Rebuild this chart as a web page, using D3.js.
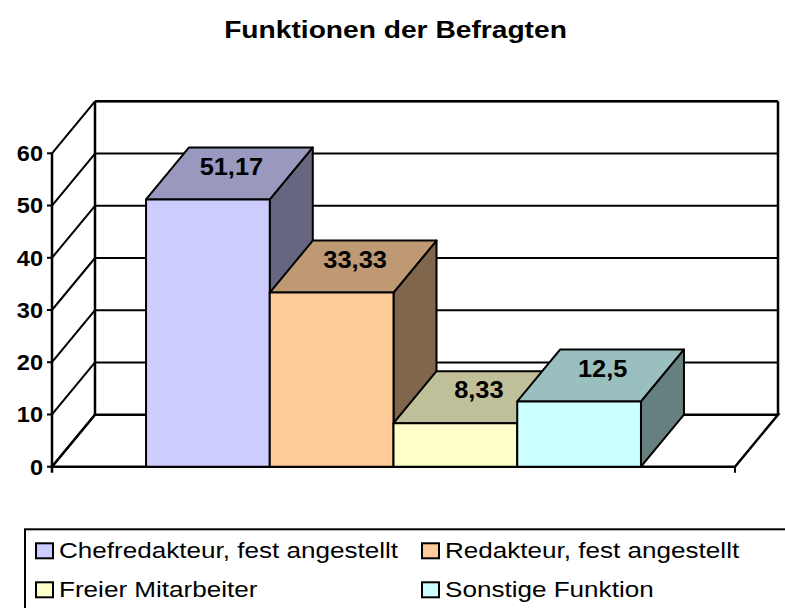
<!DOCTYPE html>
<html>
<head>
<meta charset="utf-8">
<script src="https://cdn.jsdelivr.net/npm/d3@7"></script>
<style>
  body { margin: 0; background: #fff; }
  text { font-family: "Liberation Sans", Arial, sans-serif; fill: #000; }
</style>
</head>
<body>
<div id="chart"></div>
<script>
// data
var categories = ["Chefredakteur, fest angestellt", "Redakteur, fest angestellt", "Freier Mitarbeiter", "Sonstige Funktion"];
var values = [51.17, 33.33, 8.33, 12.5];
var colors = ["#CCCCFF", "#FFCC99", "#FFFFCC", "#CCFFFF"];
var yTicks = [0, 10, 20, 30, 40, 50, 60];

var W = 785, H = 608;
var x0 = 52, x1 = 735, yBase = 466.7, yTop = 153.3;
var depth = {x: 43, y: -52};

var svg = d3.select("#chart").append("svg")
    .attr("width", W)
    .attr("height", H);

// scales
var y = d3.scaleLinear().domain([0, 60]).range([yBase, yTop]);
var x = d3.scaleBand().domain(categories).range([x0, x1]).paddingInner(0).paddingOuter(0.76);

// helper for horizontally stretched text (the original glyphs are wider)
function stretchText(g, tx, ty, str, size, sx, anchor, bold) {
    g.append("g")
        .attr("transform", "translate(" + tx + "," + ty + ") scale(" + sx + ",1)")
        .append("text")
        .attr("text-anchor", anchor)
        .style("font-size", size + "px")
        .style("font-weight", bold ? "bold" : "normal")
        .text(str);
}

// title
stretchText(svg, 395.5, 38.3, "Funktionen der Befragten", 24.5, 1.15, "middle", true);

// walls and grid
var grid = svg.append("g").attr("stroke", "#000").attr("fill", "none");

yTicks.forEach(function(t) {
    // back wall lines
    if (t > 0) {
        grid.append("line")
            .attr("x1", x0 + depth.x).attr("x2", x1 + depth.x)
            .attr("y1", y(t) + depth.y).attr("y2", y(t) + depth.y)
            .attr("stroke-width", 2);
    }
    // side wall diagonals
    grid.append("line")
        .attr("x1", x0).attr("y1", y(t))
        .attr("x2", x0 + depth.x).attr("y2", y(t) + depth.y)
        .attr("stroke-width", 2);
    // tick marks
    grid.append("line")
        .attr("x1", x0 - 5).attr("x2", x0)
        .attr("y1", y(t)).attr("y2", y(t))
        .attr("stroke-width", 2);
});

// back wall frame
grid.append("line")
    .attr("x1", x0 + depth.x).attr("x2", x0 + depth.x)
    .attr("y1", y(0) + depth.y).attr("y2", y(60) + depth.y)
    .attr("stroke-width", 2.5);
grid.append("line")
    .attr("x1", x1 + depth.x).attr("x2", x1 + depth.x)
    .attr("y1", y(0) + depth.y).attr("y2", y(60) + depth.y)
    .attr("stroke-width", 2.5);
grid.append("line")
    .attr("x1", x0 + depth.x).attr("x2", x1 + depth.x)
    .attr("y1", y(60) + depth.y).attr("y2", y(60) + depth.y)
    .attr("stroke-width", 2.5);

// floor
grid.append("path")
    .attr("d", "M" + x0 + "," + y(0) +
        "L" + x1 + "," + y(0) +
        "L" + (x1 + depth.x) + "," + (y(0) + depth.y) +
        "L" + (x0 + depth.x) + "," + (y(0) + depth.y) + "Z")
    .attr("stroke-width", 2.5);

// front axis
grid.append("line")
    .attr("x1", x0).attr("x2", x0)
    .attr("y1", y(0) + 6).attr("y2", y(60))
    .attr("stroke-width", 2.5);
grid.append("line")
    .attr("x1", x1).attr("x2", x1)
    .attr("y1", y(0)).attr("y2", y(0) + 6)
    .attr("stroke-width", 2);

// y tick labels
yTicks.forEach(function(t) {
    stretchText(svg, 43, y(t) + 7.8, String(t), 22, 1.07, "end", true);
});

function shade(c, k) {
    var r = d3.rgb(c);
    return d3.rgb(r.r * k, r.g * k, r.b * k).toString();
}

// bars, drawn left to right
var bars = svg.selectAll("g.bar")
    .data(values)
    .enter()
    .append("g")
    .attr("class", "bar")
    .attr("stroke", "#000")
    .attr("stroke-width", 2)
    .attr("stroke-linejoin", "round");

bars.each(function(d, i) {
    var g = d3.select(this);
    var l = x(categories[i]), r = l + x.bandwidth();
    var t = y(d), b = y(0);
    var dx = depth.x, dy = depth.y;
    // side
    g.append("path")
        .attr("d", "M" + r + "," + b + "L" + (r + dx) + "," + (b + dy) +
            "L" + (r + dx) + "," + (t + dy) + "L" + r + "," + t + "Z")
        .attr("fill", shade(colors[i], 0.5));
    // top
    g.append("path")
        .attr("d", "M" + l + "," + t + "L" + r + "," + t +
            "L" + (r + dx) + "," + (t + dy) + "L" + (l + dx) + "," + (t + dy) + "Z")
        .attr("fill", shade(colors[i], 0.75));
    // front
    g.append("rect")
        .attr("x", l).attr("y", t)
        .attr("width", r - l).attr("height", b - t)
        .attr("fill", colors[i]);
});

// value labels
values.forEach(function(d, i) {
    var cx = x(categories[i]) + x.bandwidth() / 2 + depth.x / 2 + 2;
    stretchText(svg, cx, y(d) - 24.7, String(d).replace(".", ","), 23.3, 1.09, "middle", true);
});

// legend
var legend = svg.append("g");
legend.append("rect")
    .attr("x", 25).attr("y", 529.3)
    .attr("width", 780).attr("height", 100)
    .attr("fill", "#fff")
    .attr("stroke", "#000")
    .attr("stroke-width", 2);

var legendPos = [
    {sx: 36, tx: 59, row: 0},
    {sx: 422, tx: 445, row: 0},
    {sx: 36, tx: 59, row: 1},
    {sx: 422, tx: 445, row: 1}
];

categories.forEach(function(c, i) {
    var p = legendPos[i];
    var base = 558.3 + p.row * 39;
    legend.append("rect")
        .attr("x", p.sx).attr("y", base - 15)
        .attr("width", 17).attr("height", 15)
        .attr("fill", colors[i])
        .attr("stroke", "#000")
        .attr("stroke-width", 2);
    stretchText(legend, p.tx, base, c, 22.3, 1.17, "start", false);
});
</script>
</body>
</html>
